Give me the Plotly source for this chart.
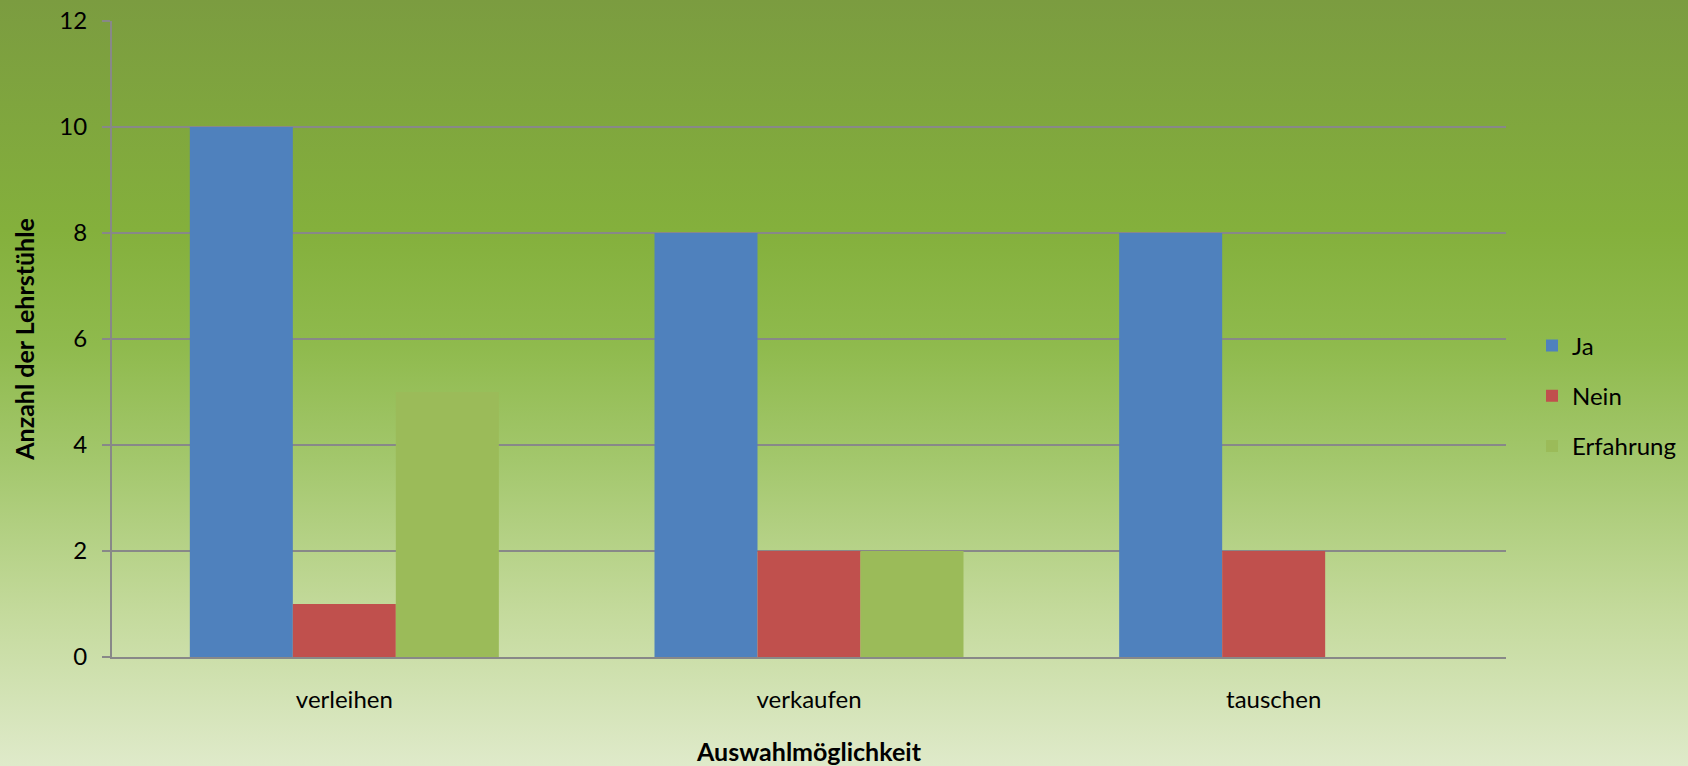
import base64
import plotly.graph_objects as go

categories = ["verleihen", "verkaufen", "tauschen"]
ja = [10, 8, 8]
nein = [1, 2, 2]
erfahrung = [5, 2, 0]
series_names = ["Ja", "Nein", "Erfahrung"]
colors = ["#4F81BD", "#C0504D", "#9BBB59"]

W, H = 1688, 766
L, R, T, B = 112, 182, 21, 109
pw, ph = W - L - R, H - T - B

svg = (
    '<svg xmlns="http://www.w3.org/2000/svg" width="100" height="100" preserveAspectRatio="none" viewBox="0 0 100 100">'
    '<defs><linearGradient id="g" x1="0" y1="0" x2="0" y2="1">'
    '<stop offset="0" stop-color="#7B9C40"/>'
    '<stop offset="0.3" stop-color="#84B03C"/>'
    '<stop offset="0.45" stop-color="#8FBA4D"/>'
    '<stop offset="0.6" stop-color="#A3C76C"/>'
    '<stop offset="0.8" stop-color="#C4DA9C"/>'
    '<stop offset="1" stop-color="#DFEACA"/>'
    '</linearGradient></defs>'
    '<rect x="0" y="0" width="100" height="100" fill="url(#g)"/></svg>'
)
src = "data:image/svg+xml;base64," + base64.b64encode(svg.encode()).decode()

fig = go.Figure()
for name, vals, col in zip(series_names, [ja, nein, erfahrung], colors):
    fig.add_trace(go.Bar(x=categories, y=vals, name=name, marker=dict(color=col, line=dict(width=0)),
                         legendgroup=name))

font = "Lato, 'Open Sans', sans-serif"
fig.update_layout(
    width=W, height=H,
    margin=dict(l=L, r=R, t=T, b=B, autoexpand=False),
    paper_bgcolor="rgba(0,0,0,0)",
    plot_bgcolor="rgba(0,0,0,0)",
    barmode="group", bargap=0.335, bargroupgap=0,
    font=dict(family=font, size=24, color="#000000"),
    images=[dict(source=src, xref="paper", yref="paper",
                 x=-L / pw, y=1 + T / ph, sizex=W / pw, sizey=H / ph,
                 xanchor="left", yanchor="top", sizing="stretch", layer="below")],
    legend=dict(x=1 + 26 / pw, xanchor="left", y=(657 - 396) / ph, yanchor="middle",
                font=dict(size=24), tracegroupgap=16, bgcolor="rgba(0,0,0,0)"),
    showlegend=True,
)
fig.update_xaxes(showline=True, linecolor="#888888", linewidth=2, ticks="",
                 ticklabelstandoff=20, automargin=False,
                 title=dict(text="<b>Auswahlmöglichkeit</b>", font=dict(size=25), standoff=32),
                 tickfont=dict(size=24))
fig.update_yaxes(range=[0, 12], dtick=2, showline=True, linecolor="#888888", linewidth=2,
                 showgrid=True, gridcolor="#888888", gridwidth=2, zeroline=False,
                 ticks="outside", ticklen=8, tickcolor="#888888", tickwidth=2,
                 ticklabelstandoff=10, automargin=False,
                 title=dict(text="<b>Anzahl der Lehrstühle</b>", font=dict(size=25), standoff=18),
                 tickfont=dict(size=24))
fig.write_html("out.html", config={"displayModeBar": False},
               post_script="document.body.style.margin='0';document.body.style.overflow='hidden';")
